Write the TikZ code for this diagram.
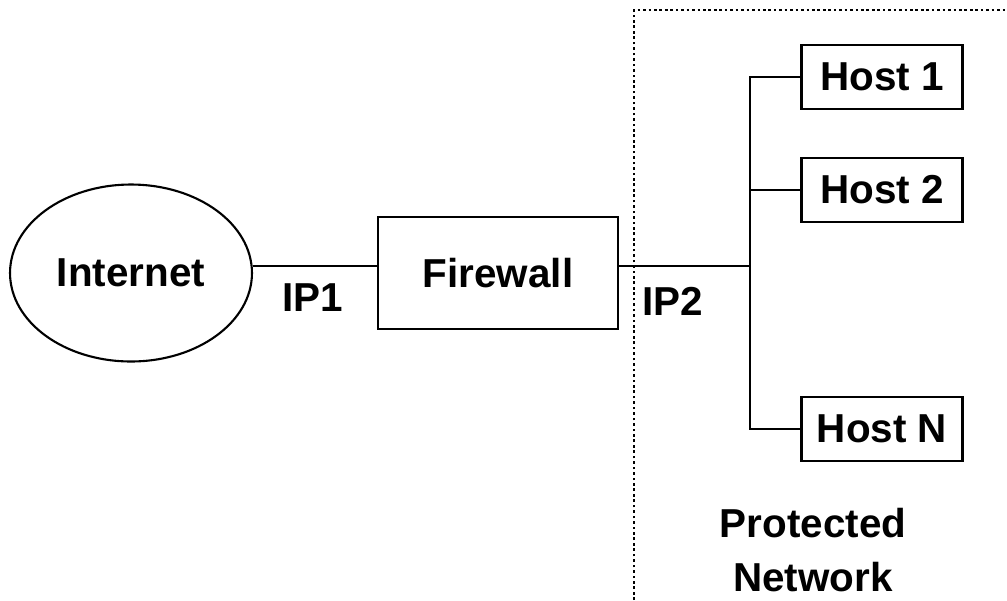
\documentclass[tikz,border=0pt]{standalone}
\usepackage{fontspec}
\setmainfont{Liberation Sans}
\usepackage{tikz}
\usetikzlibrary{shapes.geometric, positioning, calc}

\begin{document}
\begin{tikzpicture}[
    x=0.02cm, y=-0.02cm,
    line width=1.2pt,
    every node/.style={font=\fontsize{23}{31}\selectfont\bfseries},
    netbox/.style={draw, rectangle, inner sep=0pt},
    hostbox/.style={netbox, minimum width=3.22cm, minimum height=1.28cm},
    lbl/.style={align=center},
]
    \useasboundingbox (0,0) rectangle (1007,600);

    \node[draw, ellipse, minimum width=4.84cm, minimum height=3.54cm, inner sep=0pt] (inet) at (131,273) {Internet};
    \node[netbox, minimum width=4.8cm, minimum height=2.24cm] (fw) at (498,273) {Firewall};

    \node[hostbox] (h1) at (882,77) {Host 1};
    \node[hostbox] (h2) at (882,190) {Host 2};
    \node[hostbox] (hn) at (882,429) {Host N};

    \coordinate (bus) at (750,266);

    % links
    \draw (inet.east |- 0,266) -- (fw.west |- 0,266);
    \draw (fw.east |- bus) -- (bus);
    \draw (h1.west) -| (bus) |- (hn.west);
    \draw (h2.west) -- (h2.west -| bus);

    \node[lbl] (ip1) at (313,298) {IP1};
    \node[lbl] (ip2) at (673,301) {IP2};
    \node[lbl] (prot) at (813,550) {Protected\\Network};

    % protected area
    \draw[line width=1.5pt, dash pattern=on 1.5pt off 1.6pt] (634,600) -- (634,10) -- (1007,10);
\end{tikzpicture}
\end{document}
